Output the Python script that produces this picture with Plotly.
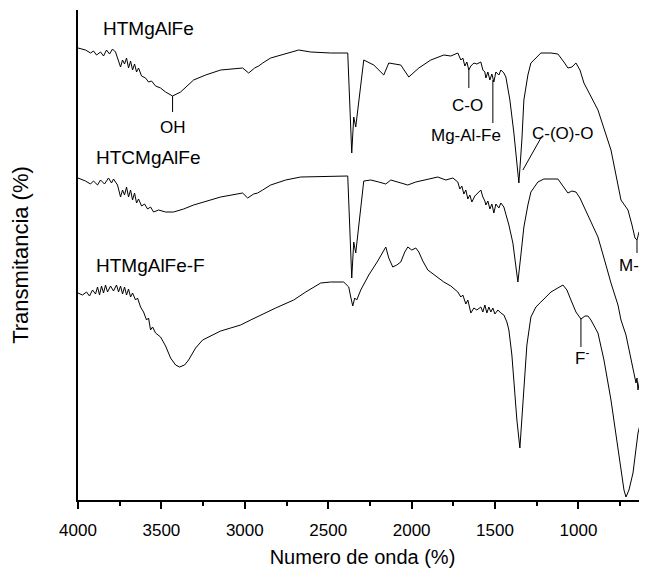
import plotly.graph_objects as go

# ---------------- data (wavenumber cm-1, transmittance arbitrary units) ----------------
wn_a = [4000, 3955, 3925, 3907, 3889, 3865, 3847, 3829, 3811, 3793, 3775, 3757, 3745, 3733, 3721, 3709,
        3697, 3685, 3673, 3661, 3649, 3637, 3619, 3595, 3577, 3559, 3535, 3505, 3475, 3433, 3385, 3307,
        3235, 3145, 3013, 2977, 2941, 2917, 2893, 2845, 2755, 2677, 2605, 2485, 2383, 2359, 2347, 2335,
        2287, 2227, 2167, 2137, 2065, 2017, 1957, 1885, 1807, 1765, 1723, 1705, 1693, 1681, 1669, 1657,
        1645, 1627, 1609, 1585, 1573, 1561, 1555, 1543, 1531, 1519, 1507, 1495, 1477, 1465, 1447, 1435,
        1411, 1387, 1357, 1339, 1327, 1303, 1285, 1225, 1165, 1123, 1087, 1063, 1039, 1015, 991, 967,
        883, 805, 745, 703, 679, 661, 649, 637, 613, 583]
t_a = [452, 450, 447, 449, 445, 448, 444, 450, 446, 451, 448, 440, 433, 440, 436, 442,
       432, 439, 430, 436, 428, 432, 424, 422, 418, 419, 414, 412, 408, 404, 408, 420,
       425, 430, 432, 427, 432, 434, 437, 442, 446, 450, 448, 447, 447, 347, 383, 373,
       440, 435, 425, 437, 435, 423, 432, 440, 445, 444, 447, 440, 442, 434, 438, 430,
       434, 437, 436, 438, 430, 428, 422, 428, 420, 426, 418, 428, 425, 430, 427, 423,
       400, 367, 317, 360, 400, 425, 437, 447, 447, 446, 438, 432, 433, 437, 430, 417,
       390, 350, 300, 290, 275, 262, 260, 268, 273, 300]

wn_b = [4000, 3955, 3925, 3907, 3883, 3865, 3841, 3817, 3799, 3787, 3763, 3745, 3733, 3721, 3709, 3697,
        3685, 3673, 3661, 3649, 3637, 3619, 3601, 3583, 3565, 3547, 3517, 3475, 3427, 3367, 3307, 3145,
        3013, 2983, 2947, 2923, 2893, 2845, 2755, 2665, 2383, 2359, 2347, 2335, 2287, 2245, 2197, 2155,
        2125, 2077, 2023, 1975, 1927, 1885, 1843, 1795, 1753, 1723, 1711, 1699, 1687, 1675, 1663, 1651,
        1639, 1621, 1603, 1585, 1573, 1561, 1555, 1543, 1531, 1519, 1507, 1495, 1477, 1465, 1447, 1417,
        1393, 1363, 1345, 1327, 1303, 1285, 1243, 1207, 1123, 1087, 1063, 1039, 1015, 991, 967, 925,
        883, 847, 805, 763, 745, 715, 685, 667, 655, 649, 643, 631, 619, 607, 583]
t_b = [322, 319, 316, 319, 315, 320, 316, 322, 317, 321, 315, 303, 310, 305, 313, 303,
       310, 300, 307, 297, 301, 294, 296, 291, 293, 288, 290, 288, 288, 291, 295, 303,
       307, 302, 306, 307, 310, 315, 320, 323, 324, 222, 258, 247, 319, 320, 318, 316,
       320, 318, 315, 318, 320, 321, 323, 320, 322, 318, 311, 314, 306, 310, 301, 305,
       298, 304, 307, 310, 303, 299, 295, 299, 291, 296, 287, 296, 292, 297, 293, 275,
       257, 218, 245, 273, 295, 308, 318, 321, 321, 313, 307, 309, 308, 302, 293, 278,
       263, 242, 217, 195, 180, 165, 140, 125, 117, 122, 110, 122, 118, 132, 135]

wn_c = [4000, 3973, 3949, 3931, 3913, 3895, 3883, 3871, 3859, 3847, 3835, 3823, 3805, 3787, 3769, 3757,
        3745, 3733, 3721, 3709, 3697, 3685, 3673, 3655, 3643, 3625, 3607, 3589, 3577, 3565, 3553, 3535,
        3505, 3475, 3445, 3415, 3391, 3361, 3337, 3295, 3253, 3205, 3145, 3085, 3025, 2965, 2905, 2815,
        2707, 2635, 2545, 2485, 2407, 2377, 2365, 2353, 2341, 2329, 2305, 2257, 2203, 2155, 2137, 2113,
        2089, 2065, 2041, 2023, 1999, 1975, 1957, 1933, 1903, 1855, 1807, 1765, 1723, 1705, 1693, 1675,
        1663, 1645, 1627, 1609, 1585, 1573, 1561, 1549, 1537, 1525, 1513, 1501, 1483, 1465, 1447, 1429,
        1417, 1399, 1387, 1369, 1351, 1339, 1327, 1309, 1285, 1255, 1225, 1165, 1093, 1069, 1045, 1015,
        985, 961, 943, 925, 883, 847, 805, 775, 745, 727, 715, 697, 673, 655, 643, 631, 619, 607, 595, 583]
t_c = [207, 205, 208, 204, 210, 206, 213, 205, 214, 207, 215, 208, 214, 209, 215, 208,
       214, 206, 213, 205, 211, 203, 207, 200, 202, 193, 188, 180, 182, 170, 173, 167,
       163, 154, 142, 135, 133, 135, 140, 152, 160, 164, 169, 172, 175, 180, 185, 192,
       200, 208, 217, 218, 218, 213, 203, 194, 202, 200, 210, 225, 239, 253, 242, 233,
       235, 238, 248, 253, 250, 252, 248, 239, 230, 224, 218, 214, 208, 203, 205, 196,
       200, 187, 192, 190, 193, 188, 195, 187, 193, 188, 192, 186, 190, 187, 185, 178,
       170, 145, 117, 80, 52, 80, 117, 155, 183, 193, 198, 208, 215, 210, 200, 188,
       181, 184, 184, 180, 167, 140, 100, 65, 27, 10, 3, 10, 27, 55, 67, 75, 82, 87, 60, 30]

series_names = ["HTMgAlFe", "HTCMgAlFe", "HTMgAlFe-F"]
x_ticks = [4000, 3500, 3000, 2500, 2000, 1500, 1000]

# sample labels: (text, wavenumber of left edge, transmittance)
sample_labels = [("HTMgAlFe", 3865, 472), ("HTCMgAlFe", 3907, 343), ("HTMgAlFe-F", 3907, 235)]

# peak labels: text, peak wavenumber, T at peak, T at end of tick, label wn, label T
peak_labels = [
    ("OH", 3433, 404, 388, 3433, 373),
    ("C-O", 1657, 430, 412, 1663, 395),
    ("Mg-Al-Fe", 1513, 420, 377, 1675, 365),
    ("M-O", 649, 260, 247, 655, 235),
    ("F<sup>-</sup>", 985, 181, 153, 980, 143),
]
# slanted pointer for C-(O)-O
coo_line = (1333, 330, 1225, 362)
coo_label = ("C-(O)-O", 1093, 367)

FONT = "Arial, Liberation Sans, sans-serif"

fig = go.Figure()
for wn, t, name in zip([wn_a, wn_b, wn_c], [t_a, t_b, t_c], series_names):
    fig.add_trace(go.Scatter(x=wn, y=t, mode="lines", name=name,
                             line=dict(color="black", width=1), showlegend=False))

shapes = []
annotations = []
for text, xw, yv in sample_labels:
    annotations.append(dict(x=xw, y=yv, text=text, showarrow=False, xanchor="left",
                            yanchor="middle", font=dict(size=19, color="black", family=FONT)))
for text, px, y0, y1, lx, ly in peak_labels:
    shapes.append(dict(type="line", x0=px, x1=px, y0=y0, y1=y1, xref="x", yref="y",
                       line=dict(color="black", width=1)))
    annotations.append(dict(x=lx, y=ly, text=text, showarrow=False, xanchor="center",
                            yanchor="middle", font=dict(size=17, color="black", family=FONT)))
shapes.append(dict(type="line", x0=coo_line[0], y0=coo_line[1], x1=coo_line[2], y1=coo_line[3],
                   xref="x", yref="y", line=dict(color="black", width=1)))
annotations.append(dict(x=coo_label[1], y=coo_label[2], text=coo_label[0], showarrow=False,
                        xanchor="center", yanchor="middle",
                        font=dict(size=17, color="black", family=FONT)))

# the page body adds an 8 px offset, so the figure is 8 px smaller than the window
fig.update_layout(
    width=639, height=561,
    margin=dict(l=70, r=0, t=2, b=69),
    paper_bgcolor="white", plot_bgcolor="white",
    font=dict(family=FONT, color="black"),
    shapes=shapes, annotations=annotations,
    xaxis=dict(range=[4000, 589], tickvals=x_ticks, ticktext=[str(v) for v in x_ticks],
               automargin=False,
               ticks="outside", ticklen=7, tickwidth=1.5, tickcolor="black",
               ticklabelstandoff=7,
               minor=dict(dtick=250, ticks="outside", ticklen=4, tickwidth=1.5, tickcolor="black"),
               showline=True, linecolor="black", linewidth=1.5, showgrid=False, zeroline=False,
               tickfont=dict(size=17, family=FONT, color="black"),
               title=dict(text="Numero de onda (%)", font=dict(size=20, family=FONT, color="black"),
                          standoff=11)),
    yaxis=dict(range=[0, 490], showticklabels=False, ticks="", showline=True, linecolor="black",
               linewidth=1.5, showgrid=False, zeroline=False, automargin=False,
               title=dict(text="Transmitancia (%)", font=dict(size=22, family=FONT, color="black"),
                          standoff=50)),
)

fig.write_html("out.html")
